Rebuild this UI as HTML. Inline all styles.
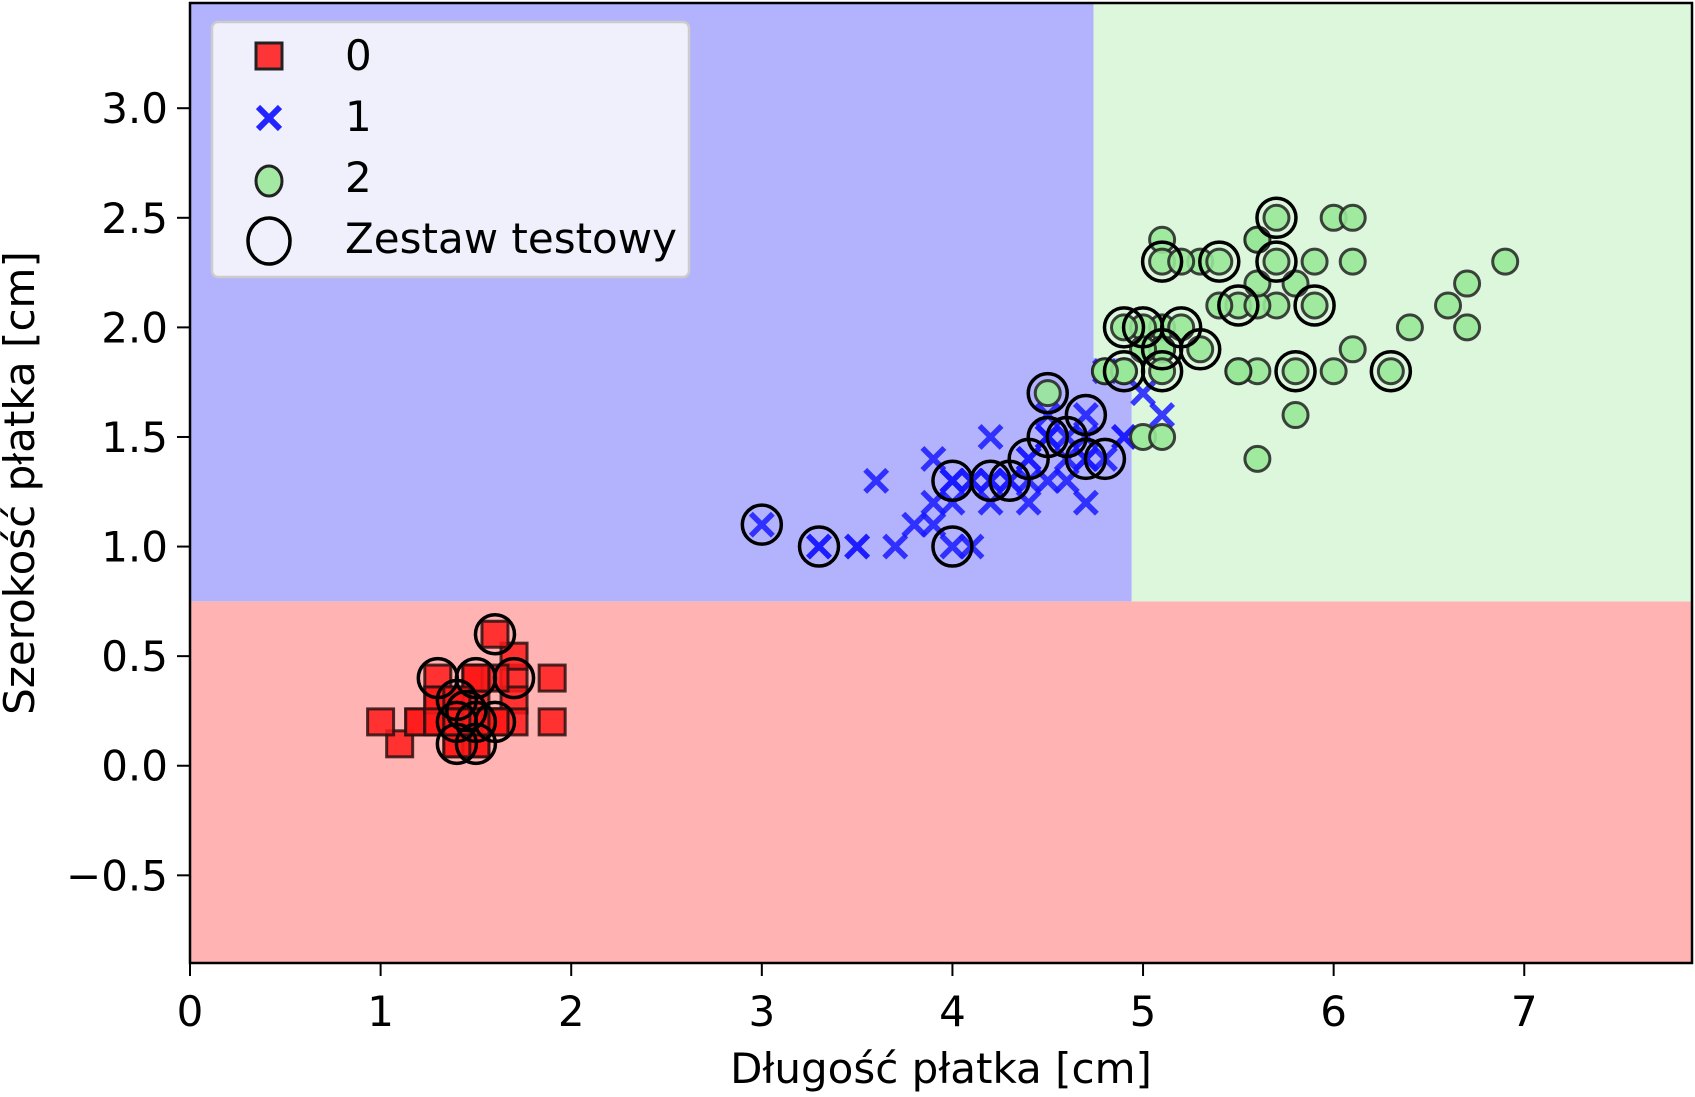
<!DOCTYPE html>
<html><head><meta charset="utf-8"><style>
html,body{margin:0;padding:0;background:#fff;}
svg text{font-family:"DejaVu Sans","Liberation Sans",sans-serif;fill:#000;}
</style></head><body>
<svg id="chart" width="1695" height="1092" viewBox="0 0 1695 1092" xmlns="http://www.w3.org/2000/svg">
<g id="regions"></g>
<g id="points"></g>
<g id="tests"></g>
<rect x="190" y="3" width="1502" height="960" fill="none" stroke="#000" stroke-width="2.5"/>
<g id="axes"></g>
<text x="941" y="1083" font-size="42" text-anchor="middle">Długość płatka [cm]</text>
<text transform="translate(34,483) rotate(-90)" font-size="42" text-anchor="middle">Szerokość płatka [cm]</text>
<g>
<rect x="212" y="22" width="477" height="255" rx="6" fill="#f0f0fc" stroke="#cccccc" stroke-width="2.5"/>
<g><rect x="256" y="43" width="26" height="26" fill="#ff2020" fill-opacity="0.9" stroke="#222" stroke-width="3"/><text x="345" y="70" font-size="42">0</text></g>
<g><path d="M258 107 L280 129 M280 107 L258 129" stroke="#2424ff" stroke-width="6"/><text x="345" y="131" font-size="42">1</text></g>
<g><ellipse cx="269" cy="181" rx="13" ry="15" fill="#a3e8a3" stroke="#222" stroke-width="3"/><text x="345" y="192" font-size="42">2</text></g>
<g><ellipse cx="269" cy="241" rx="21" ry="23" fill="none" stroke="#000" stroke-width="3.5"/><text x="345" y="253" font-size="42">Zestaw testowy</text></g>
</g>
</svg>
<script>
const xTicks=[0,1,2,3,4,5,6,7];
const yTicks=[-0.5,0.0,0.5,1.0,1.5,2.0,2.5,3.0];
const yTickLabels=["\u22120.5","0.0","0.5","1.0","1.5","2.0","2.5","3.0"];
const regionRects=[[0,7.88,-0.9,0.75,0],[0,4.74,0.75,3.48,1],[4.74,7.88,1.86,3.48,2],[4.94,7.88,0.75,1.86,2],[4.74,4.94,0.75,1.86,1]];
const class0=[[1.4,.2],[1.4,.2],[1.3,.2],[1.5,.2],[1.4,.2],[1.7,.4],[1.4,.3],[1.5,.2],[1.4,.2],[1.5,.1],[1.5,.2],[1.6,.2],[1.4,.1],[1.1,.1],[1.2,.2],[1.5,.4],[1.3,.4],[1.4,.3],[1.7,.3],[1.5,.3],[1.7,.2],[1.5,.4],[1.0,.2],[1.7,.5],[1.9,.2],[1.6,.2],[1.6,.4],[1.5,.2],[1.4,.2],[1.6,.2],[1.6,.2],[1.5,.4],[1.5,.1],[1.4,.2],[1.5,.2],[1.2,.2],[1.3,.2],[1.4,.1],[1.3,.2],[1.5,.2],[1.3,.3],[1.3,.3],[1.3,.2],[1.6,.6],[1.9,.4],[1.4,.3],[1.6,.2],[1.4,.2],[1.5,.2],[1.4,.2]];
const class1=[[4.7,1.4],[4.5,1.5],[4.9,1.5],[4.0,1.3],[4.6,1.5],[4.5,1.3],[4.7,1.6],[3.3,1.0],[4.6,1.3],[3.9,1.4],[3.5,1.0],[4.2,1.5],[4.0,1.0],[4.7,1.4],[3.6,1.3],[4.4,1.4],[4.5,1.5],[4.1,1.0],[4.5,1.5],[3.9,1.1],[4.8,1.8],[4.0,1.3],[4.9,1.5],[4.7,1.2],[4.3,1.3],[4.4,1.4],[4.8,1.4],[5.0,1.7],[4.5,1.5],[3.5,1.0],[3.8,1.1],[3.7,1.0],[3.9,1.2],[5.1,1.6],[4.5,1.5],[4.5,1.6],[4.7,1.5],[4.4,1.3],[4.1,1.3],[4.0,1.3],[4.4,1.2],[4.6,1.4],[4.0,1.2],[3.3,1.0],[4.2,1.3],[4.2,1.2],[4.2,1.3],[4.3,1.3],[3.0,1.1],[4.1,1.3]];
const class2=[[6.0,2.5],[5.1,1.9],[5.9,2.1],[5.6,1.8],[5.8,2.2],[6.6,2.1],[4.5,1.7],[6.3,1.8],[5.8,1.8],[6.1,2.5],[5.1,2.0],[5.3,1.9],[5.5,2.1],[5.0,2.0],[5.1,2.4],[5.3,2.3],[5.5,1.8],[6.7,2.2],[6.9,2.3],[5.0,1.5],[5.7,2.3],[4.9,2.0],[6.7,2.0],[4.9,1.8],[5.7,2.1],[6.0,1.8],[4.8,1.8],[4.9,1.8],[5.6,2.1],[5.8,1.6],[6.1,1.9],[6.4,2.0],[5.6,2.2],[5.1,1.5],[5.6,1.4],[6.1,2.3],[5.6,2.4],[5.5,1.8],[4.8,1.8],[5.4,2.1],[5.6,2.4],[5.1,2.3],[5.1,1.9],[5.9,2.3],[5.7,2.5],[5.2,2.3],[5.0,1.9],[5.2,2.0],[5.4,2.3],[5.1,1.8]];
const testSet=[[1.3,.4],[1.5,.4],[1.7,.4],[1.6,.6],[1.4,.3],[1.4,.2],[1.5,.2],[1.6,.2],[1.4,.1],[1.5,.1],[1.45,.25],
[3.0,1.1],[3.3,1.0],[4.0,1.0],[4.0,1.3],[4.2,1.3],[4.3,1.3],[4.4,1.4],[4.5,1.5],[4.6,1.5],[4.7,1.4],[4.7,1.6],[4.8,1.4],[4.5,1.7],
[5.7,2.5],[5.1,2.3],[5.4,2.3],[5.7,2.3],[4.9,2.0],[5.0,2.0],[5.2,2.0],[5.5,2.1],[5.9,2.1],[4.9,1.8],[5.1,1.8],[5.1,1.9],[5.3,1.9],[5.8,1.8],[6.3,1.8]];
const NS="http://www.w3.org/2000/svg";
const X0=190,X1=1692,Y0=963,Y1=3,xmin=0,xmax=7.88,ymin=-0.9,ymax=3.48;
function sx(v){return X0+(v-xmin)/(xmax-xmin)*(X1-X0);}
function sy(v){return Y0-(v-ymin)/(ymax-ymin)*(Y0-Y1);}
function mk(tag,attrs,parent){const e=document.createElementNS(NS,tag);for(const k in attrs)e.setAttribute(k,attrs[k]);parent.appendChild(e);return e;}
const regionColors=["#ffb3b3","#b3b3fd","#dcf7dc"];
const gR=document.getElementById('regions');
regionRects.forEach(r=>{
 const e=mk('rect',{x:sx(r[0]),y:sy(r[3]),width:sx(r[1])-sx(r[0]),height:sy(r[2])-sy(r[3]),fill:regionColors[r[4]]},gR);
 
 
});
const gP=document.getElementById('points');
class0.forEach(p=>{
 const e=mk('rect',{x:sx(p[0])-13,y:sy(p[1])-13,width:26,height:26,fill:"#ff1a1a","fill-opacity":0.85,stroke:"#2a1010","stroke-width":3,"stroke-opacity":0.85},gP);
 
 
});
class1.forEach(p=>{
 const x=sx(p[0]),y=sy(p[1]);
 const e=mk('path',{d:`M${x-11} ${y-11} L${x+11} ${y+11} M${x+11} ${y-11} L${x-11} ${y+11}`,stroke:"#1a1aff","stroke-opacity":0.85,"stroke-width":5.5},gP);
 
 
});
class2.forEach(p=>{
 const e=mk('circle',{cx:sx(p[0]),cy:sy(p[1]),r:12.5,fill:"#98e898","fill-opacity":0.9,stroke:"#222","stroke-width":3,"stroke-opacity":0.85},gP);
 
 
});
const gT=document.getElementById('tests');
testSet.forEach(p=>{
 const e=mk('circle',{cx:sx(p[0]),cy:sy(p[1]),r:19.5,fill:"none",stroke:"#000","stroke-width":3.5},gT);
 
 
});
const gA=document.getElementById('axes');
xTicks.forEach(t=>{
 const x=sx(t);
 const l=mk('line',{x1:x,x2:x,y1:963,y2:976,stroke:"#000","stroke-width":2},gA);
 
 
 const tx=mk('text',{x:x,y:1026,"font-size":42,"text-anchor":"middle"},gA);
 tx.textContent=String(t);
 
 
});
yTicks.forEach((t,i)=>{
 const y=sy(t);
 const l=mk('line',{x1:177,x2:190,y1:y,y2:y,stroke:"#000","stroke-width":2},gA);
 
 
 const tx=mk('text',{x:168,y:y+15,"font-size":42,"text-anchor":"end"},gA);
 tx.textContent=yTickLabels[i];
 
 
});
</script>
</body></html>
